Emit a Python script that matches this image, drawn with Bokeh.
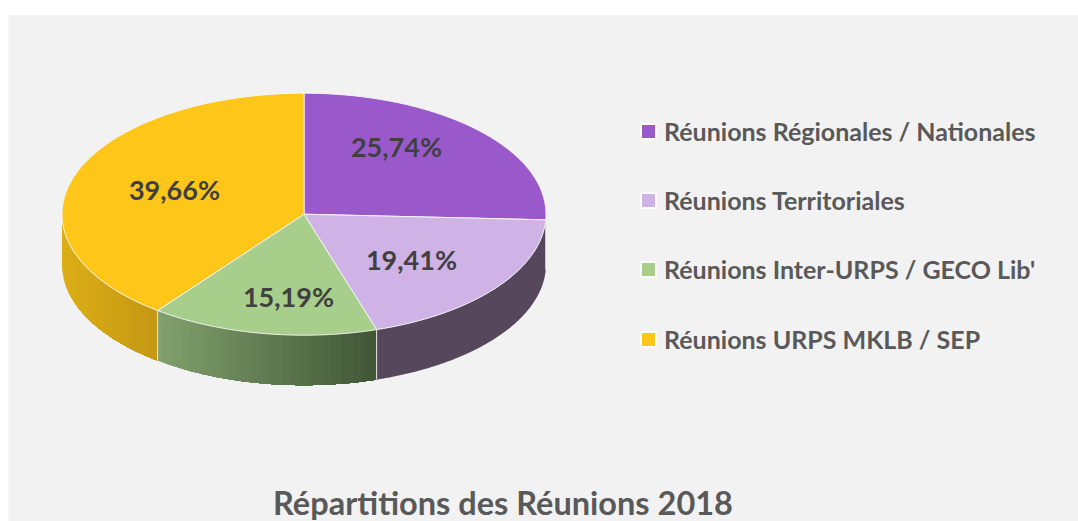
import numpy as np
from bokeh.plotting import figure
from bokeh.models import Range1d
from bokeh.core.properties import value
from bokeh.embed import file_html
from bokeh.resources import INLINE

title = "Répartitions des Réunions 2018"
categories = ["Réunions Régionales / Nationales", "Réunions Territoriales",
              "Réunions Inter-URPS / GECO Lib'", "Réunions URPS MKLB / SEP"]
shares = [25.74, 19.41, 15.19, 39.66]
labels = ["25,74%", "19,41%", "15,19%", "39,66%"]
colors = ["#9A59CB", "#CFB2E6", "#A8CE8B", "#FDC618"]
side_from = ["#56475C", "#56475C", "#80A06C", "#DBAE17"]
side_to = ["#56475C", "#56475C", "#415636", "#C49813"]
label_x = [396, 411, 288, 174]
label_y = [146, 259, 296, 189]
legend_y = [131, 200, 269, 339]

# page-pixel coordinates, so the layout can be compared directly with the reference
W, H = 1078, 521
p = figure(width=W, height=H, output_backend="svg", toolbar_location=None,
           x_range=Range1d(8, W), y_range=Range1d(H, 15),
           min_border_left=8, min_border_right=0, min_border_bottom=0, min_border_top=15,
           background_fill_color="#F2F2F2", border_fill_color="#FFFFFF", outline_line_color=None)
p.axis.visible = False
p.grid.visible = False

cx, cy, rx, ry, depth = 303.5, 213.7, 242.0, 121.0, 50.0

def ex(a):
    return cx + rx * np.sin(np.radians(a))

def ey(a):
    return cy + ry * -np.cos(np.radians(a))

def mix(c1, c2, t):
    a = [int(c1[i:i + 2], 16) for i in (1, 3, 5)]
    b = [int(c2[i:i + 2], 16) for i in (1, 3, 5)]
    return "#%02x%02x%02x" % tuple(round(u + (v - u) * t) for u, v in zip(a, b))

edges = np.concatenate([[0], np.cumsum(shares)]) / sum(shares) * 360

# outer wall: only the front half (90..270 degrees) is visible.
# Gradient runs left to right; each band is painted over the previous one, so no seams show.
for i in range(4):
    a0, a1 = max(edges[i], 90.0), min(edges[i + 1], 270.0)
    if a1 <= a0:
        continue
    flat = side_from[i] == side_to[i]
    steps = np.linspace(a0, a1, 241)
    left, right = ex(a1), ex(a0)
    bands = 1 if flat else 48
    for b in range(bands):
        xlim = left + (right - left) * b / bands
        s = steps[ex(steps) >= xlim - 1e-9]
        xs = np.concatenate([ex(s), ex(s)[::-1]])
        ys = np.concatenate([ey(s), (ey(s) + depth)[::-1]])
        c = mix(side_from[i], side_to[i], b / max(bands - 1, 1))
        p.patch(xs, ys, fill_color=c, line_color=None)

# divider lines on the wall
for a in edges[1:4]:
    if 90 <= a <= 270:
        p.segment([ex(a)], [ey(a)], [ex(a)], [ey(a) + depth], line_color="#E8E8E8", line_width=1)

# top face
for i in range(4):
    ang = np.linspace(edges[i], edges[i + 1], 160)
    xs = np.concatenate([[cx], ex(ang)])
    ys = np.concatenate([[cy], ey(ang)])
    p.patch(xs, ys, fill_color=colors[i], line_color="#F4F4F4", line_width=1)

p.text(label_x, label_y, text=labels, text_align="center", text_baseline="middle",
       text_font=value("Lato"), text_font_style="bold", text_font_size="27px", text_color="#404040")

# legend
p.rect([648] * 4, legend_y, width=17, height=17, fill_color="#FFFFFF", line_color=None, fill_alpha=0.8)
p.rect([648] * 4, legend_y, width=13, height=13, fill_color=colors, line_color=None)
p.text([663.5] * 4, [y - 1 for y in legend_y], text=categories, text_align="left", text_baseline="middle",
       text_font=value("Lato"), text_font_style="bold", text_font_size="25px", text_color="#595959")

p.text([502.5], [502], text=[title], text_align="center", text_baseline="middle",
       text_font=value("Lato"), text_font_style="bold", text_font_size="32.5px", text_color="#595959")

open("out.html", "w").write(file_html(p, INLINE))
